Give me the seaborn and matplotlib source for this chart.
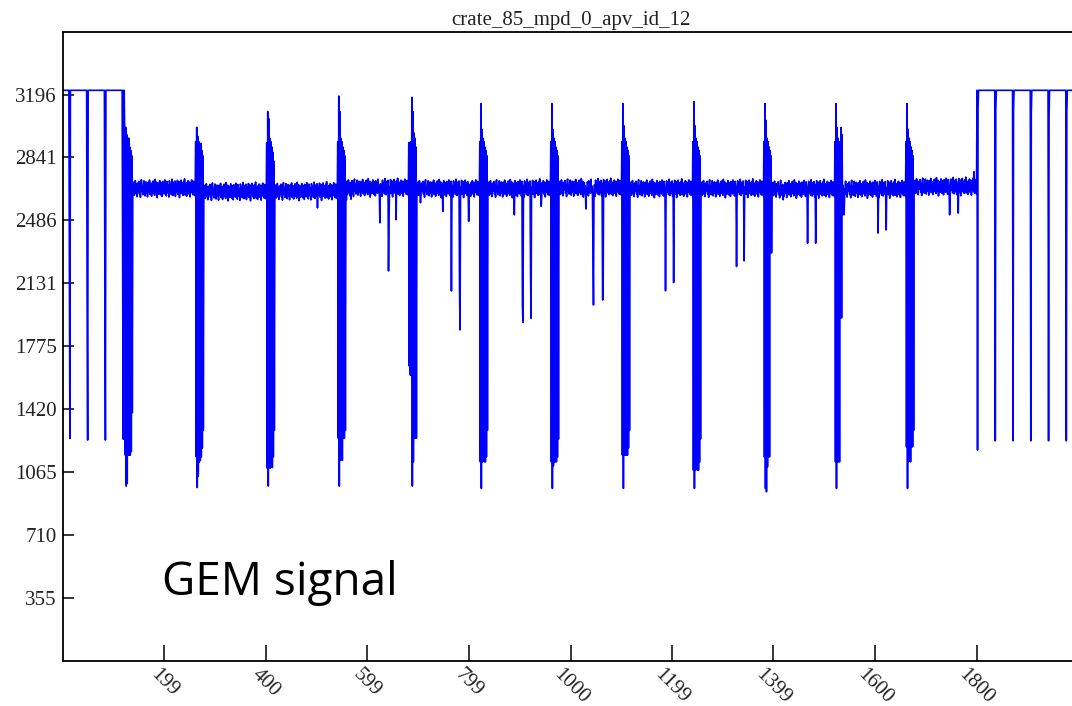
import numpy as np
import pandas as pd
import matplotlib
matplotlib.use("Agg")
import matplotlib.pyplot as plt
import seaborn as sns

# ---------------- data ----------------
title = "crate_85_mpd_0_apv_id_12"
annotation = "GEM signal"

x_tick_values = [199, 400, 599, 799, 1000, 1199, 1399, 1600, 1800]
x_tick_labels = ["199", "400", "599", "799", "1000", "1199", "1399", "1600", "1800"]
y_tick_values = [355.1, 710.2, 1065.3, 1420.4, 1775.5, 2130.6, 2485.7, 2840.8, 3195.9]
y_tick_labels = ["355", "710", "1065", "1420", "1775", "2131", "2486", "2841", "3196"]
x_max = 2002
y_max = 3551

idle_level = 3220
last_sample = 1995

# synchronisation ticks before the first frame
lead_tick_samples = [13, 48, 83, 118]
lead_tick_mid = [2211, 1980, 2088, 2189]
lead_tick_low = [1254, 1245, 1245, 1250]

# synchronisation ticks after the last frame
tail_tick_samples = [1802, 1837, 1872, 1907, 1942, 1977]
tail_tick_low = [1188, 1241, 1241, 1241, 1241, 1241]
tail_tick_mid = [3121, 3110, 3110, 3100, 3080, 3100]

# APV frames: first sample, digital header, common baseline
frame_first_sample = [121, 261, 401, 541, 681, 821, 961, 1101, 1241, 1381, 1521, 1661]
frame_header = [
    [2960, 1160, 3011, 985, 2970, 1000, 2930, 1160, 2950, 1160, 2900, 1160, 2880, 1180, 2850, 1400],
    [2930, 1150, 3011, 977, 2960, 1040, 2930, 1120, 2900, 1130, 2920, 1150, 2880, 1200, 2850, 1300],
    [2924, 1086, 3100, 985, 3060, 1090, 2950, 1086, 2930, 1100, 2900, 1090, 2870, 1150, 2820, 1300],
    [2930, 1256, 3187, 985, 3100, 1130, 2950, 1256, 2930, 1130, 2900, 1256, 2880, 1256, 2850, 1300],
    [2925, 1663, 2925, 1612, 2930, 1612, 3180, 985, 3100, 1122, 2980, 1256, 2950, 1256, 2900, 1256],
    [2930, 1122, 3145, 972, 3000, 1122, 2950, 1180, 2930, 1122, 2900, 1122, 2880, 1150, 2850, 1300],
    [2930, 1122, 3145, 972, 3000, 1100, 2950, 1122, 2930, 1122, 2900, 1122, 2880, 1150, 2850, 1250],
    [2930, 1160, 3145, 972, 3020, 1160, 2950, 1160, 2930, 1160, 2900, 1160, 2880, 1200, 2850, 1300],
    [2930, 1075, 3156, 972, 3020, 1075, 2950, 1120, 2930, 1075, 2900, 1075, 2880, 1120, 2850, 1250],
    [2930, 1150, 3145, 972, 3050, 953, 2950, 1094, 2930, 1150, 2900, 1150, 2880, 2302, 2850, 2302],
    [2930, 1122, 3145, 972, 3010, 1122, 2950, 1122, 2930, 1122, 2900, 1935, 3010, 1935, 2970, 2517],
    [2930, 1207, 3145, 972, 3000, 1122, 2950, 1207, 2930, 1122, 2900, 1207, 2880, 1207, 2850, 1300],
]
frame_baseline = [2668, 2650, 2652, 2672, 2668, 2668, 2672, 2668, 2668, 2665, 2665, 2678]

# per-channel pedestal offsets (124 analog channels shown per frame)
channel_pedestal = [
    18, -25, 34, -40, 10, 42, -30, 20, -48, 28, 6, -16, 38, -34, 14, -52, 30, 47, -20, 2,
    -38, 24, 41, -14, -44, 19, 35, -27, 8, -50, 33, 16, -22, 45, -36, 12, 25, -46, 29, -8,
    40, -30, 18, -41, 49, 5, -24, 34, -55, 22, 27, -35, 9, 42, -19, -39, 31, 13, -48, 37,
    -11, 26, -33, 46, -16, 7, -45, 38, 20, -27, 15, -51, 41, 30, -23, 11, -37, 50, -7, -42,
    33, 19, -30, 40, -47, 23, 4, -26, 44, -35, 16, 36, -54, 24, -12, 45, -31, 8, 29, -41,
    37, -20, 52, -38, 12, 22, -46, 31, -15, 41, -33, 18, 34, -50, 26, -9, 46, -28, 14, -39,
    38, -22, 30, -44,
]

# GEM hits (negative pulses): frame index, channel, ADC value
hit_frame = [2, 3, 3, 3, 3, 3, 3, 4, 4, 4, 4, 4, 4, 5, 5, 5, 5, 5, 5,
             6, 6, 6, 6, 6, 7, 7, 8, 8, 9, 9, 9, 10, 10, 10, 11, 11, 11]
hit_channel = [84, 1, 10, 67, 84, 85, 99, 7, 51, 68, 84, 85, 102, 52, 68, 69, 84, 85, 105,
               53, 67, 68, 86, 87, 70, 86, 70, 85, 22, 70, 86, 2, 69, 85, 70, 87, 118]
hit_value = [2556, 2600, 2605, 2472, 2200, 2480, 2489, 2585, 2536, 2087, 2097, 1867, 2480,
             2517, 2000, 1909, 2190, 1933, 2565,
             2550, 2348, 2008, 2036, 2040, 2088, 2135, 2225, 2257, 2602, 2357, 2357,
             2517, 2414, 2432, 2517, 2527, 2760]

# ---------------- assemble the sample stream ----------------
samples = np.arange(0, last_sample + 1)
adc = np.full(samples.shape, float(idle_level))

for s, m, lo in zip(lead_tick_samples, lead_tick_mid, lead_tick_low):
    adc[s - 1] = m
    adc[s] = lo

header_len = len(frame_header[0])
for k, start in enumerate(frame_first_sample):
    adc[start:start + header_len] = frame_header[k]
    a0 = start + header_len
    adc[a0:a0 + len(channel_pedestal)] = frame_baseline[k] + np.array(channel_pedestal)

for f, ch, v in zip(hit_frame, hit_channel, hit_value):
    adc[frame_first_sample[f] + header_len + ch] = v

for s, lo, m in zip(tail_tick_samples, tail_tick_low, tail_tick_mid):
    adc[s] = lo
    adc[s + 1] = m

df = pd.DataFrame({"sample": samples, "adc": adc})

# ---------------- plot ----------------
sns.set_style("white")
plt.rcParams["font.family"] = ["Liberation Serif", "DejaVu Serif"]

W, H = 1072, 706
fig = plt.figure(figsize=(W / 100, H / 100), dpi=100)
left_px, right_px, top_px, bottom_px = 63.3, 1079.0, 31.7, 660.5
ax = fig.add_axes([left_px / W, (H - bottom_px) / H,
                   (right_px - left_px) / W, (bottom_px - top_px) / H])

sns.lineplot(data=df, x="sample", y="adc", ax=ax, color="#0000ff",
             linewidth=1.2, estimator=None, errorbar=None, sort=False)

ax.set_xlim(0, x_max)
ax.set_ylim(0, y_max)
ax.set_xlabel("")
ax.set_ylabel("")

ax.set_xticks(x_tick_values)
ax.set_xticklabels(x_tick_labels, rotation=-45, fontsize=15, color="#222222")
ax.set_yticks(y_tick_values)
ax.set_yticklabels(y_tick_labels, fontsize=15, color="#222222")
ax.tick_params(axis="x", direction="in", bottom=True, length=11.5, width=1.1, pad=3, color="black")
ax.tick_params(axis="y", direction="in", left=True, length=8, width=1.1, pad=4.7, color="black")

for sp in ax.spines.values():
    sp.set_visible(True)
    sp.set_color("black")
    sp.set_linewidth(1.3)

ax.set_title(title, fontsize=15, pad=5, color="#222222")

fig.text(162.3 / W, (H - 595) / H, annotation, family=["Open Sans", "DejaVu Sans"],
         fontsize=33, ha="left", va="baseline", color="black")

fig.savefig("out.png", dpi=100)
